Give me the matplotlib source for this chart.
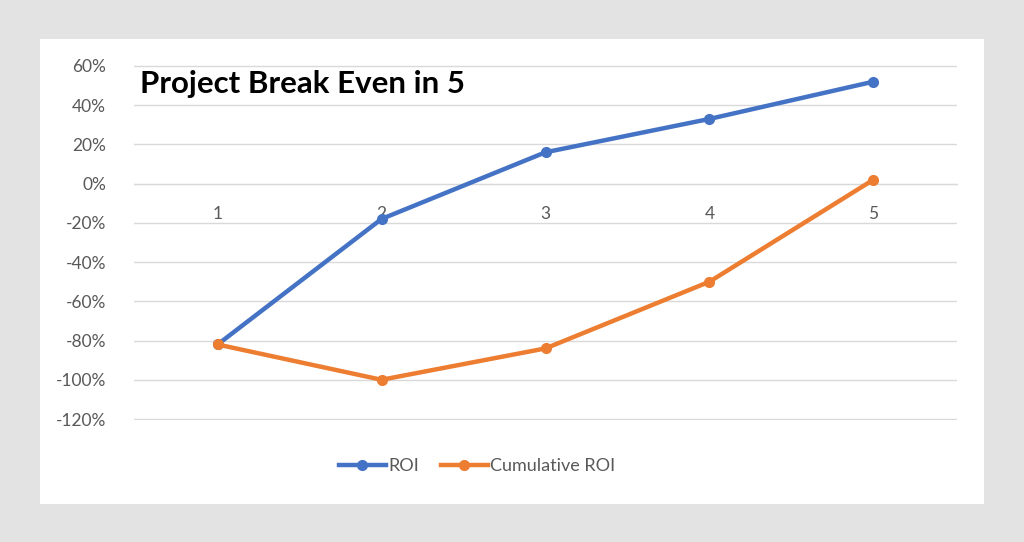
import matplotlib
matplotlib.use('Agg')
import matplotlib.pyplot as plt
from matplotlib.patches import Rectangle
from matplotlib.ticker import PercentFormatter

# chart values
years = [1, 2, 3, 4, 5]
roi = [-0.82, -0.18, 0.16, 0.33, 0.52]
cumulative_roi = [-0.82, -1.00, -0.84, -0.50, 0.02]
y_ticks = [0.6, 0.4, 0.2, 0.0, -0.2, -0.4, -0.6, -0.8, -1.0, -1.2]
title = 'Project Break Even in 5'

plt.rcParams['font.family'] = ['Lato', 'DejaVu Sans']
plt.rcParams['axes.unicode_minus'] = False

fig = plt.figure(figsize=(10.24, 5.42), dpi=100)
fig.patch.set_facecolor('#e3e3e3')

# white chart panel
panel = Rectangle((40 / 1024, 1 - 504 / 542), 944 / 1024, 465 / 542,
                  transform=fig.transFigure, facecolor='white', edgecolor='none', zorder=-1)
fig.patches.append(panel)

ax = fig.add_axes([134 / 1024, 1 - 420 / 542, 823 / 1024, 355 / 542])
ax.set_facecolor('none')

ax.plot(years, roi, color='#4472c4', lw=3.2, marker='o', ms=7, label='ROI', zorder=3)
ax.plot(years, cumulative_roi, color='#ed7d31', lw=3.2, marker='o', ms=7, label='Cumulative ROI', zorder=3)

ax.set_xlim(0.49, 5.51)
ax.set_ylim(-1.205, 0.605)
ax.set_yticks(y_ticks)
ax.yaxis.set_major_formatter(PercentFormatter(1.0, decimals=0))
ax.set_xticks(years)
ax.grid(axis='y', color='#d9d9d9', lw=1)
ax.set_axisbelow(True)

for s in ['top', 'right', 'left']:
    ax.spines[s].set_visible(False)
ax.spines['bottom'].set_position(('data', 0))
ax.spines['bottom'].set_color('#d9d9d9')
ax.tick_params(axis='both', length=0, colors='#595959', labelsize=12.5)
ax.tick_params(axis='x', pad=16)
ax.tick_params(axis='y', pad=20)

fig.text(140 / 1024, 1 - 84 / 542, title, fontsize=22.5, fontweight='bold',
         color='black', va='center', ha='left')

fig.legend(loc='center', bbox_to_anchor=(477 / 1024, 1 - 466 / 542), ncol=2,
           frameon=False, fontsize=13, handlelength=2.6, columnspacing=1.2,
           handletextpad=0.15, labelcolor='#595959')

fig.savefig('out.png', dpi=100, facecolor=fig.get_facecolor())
